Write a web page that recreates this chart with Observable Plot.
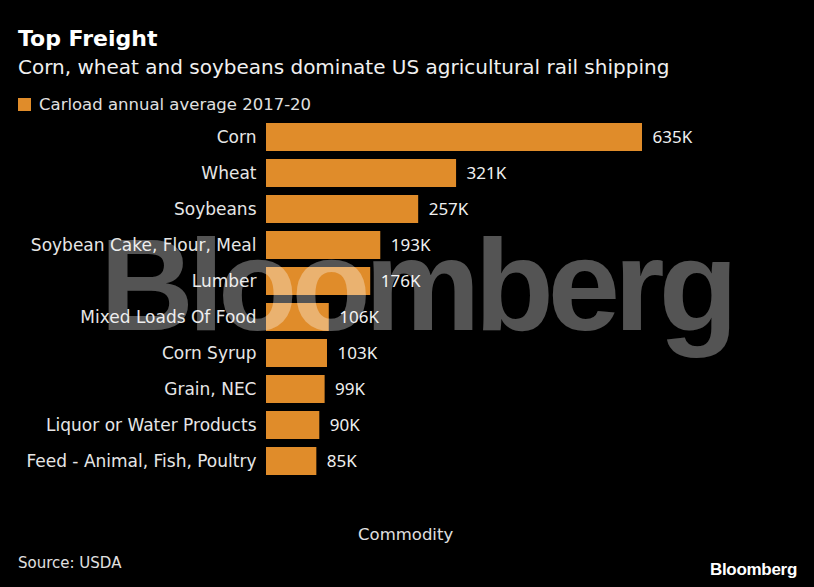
<!DOCTYPE html>
<html><head><meta charset="utf-8">
<script src="https://cdn.jsdelivr.net/npm/d3@7"></script>
<script src="https://cdn.jsdelivr.net/npm/@observablehq/plot@0.6"></script>
<style>
html,body{margin:0;padding:0;background:#000;}
body{width:814px;height:587px;overflow:hidden;position:relative;font-family:"DejaVu Sans",sans-serif;color:#e6e6e6;}
.abs{position:absolute;white-space:nowrap;line-height:1;}
#title{left:18px;top:28px;font-size:22px;font-weight:bold;color:#fff;}
#subtitle{left:18px;top:57px;font-size:20px;color:#f0f0f0;}
#legend{left:18px;top:97px;font-size:16.5px;color:#e0e0e0;}
#legend .sw{display:inline-block;width:13px;height:13px;background:#e08c2a;margin-right:8px;vertical-align:-1px;}
#chart{position:absolute;left:0;top:118px;}
#source{left:18px;top:556px;font-size:15px;color:#e0e0e0;}
#logo{right:17px;top:561px;font-size:17px;font-weight:bold;font-family:"Liberation Sans",Arial,sans-serif;color:#fff;letter-spacing:-0.3px;}
#wm{left:100px;top:220px;font-size:130px;font-weight:bold;font-family:"Liberation Sans",Arial,sans-serif;color:rgba(255,255,255,0.33);letter-spacing:-6px;pointer-events:none;z-index:5;}
</style></head><body>
<div id="title" class="abs">Top Freight</div>
<div id="subtitle" class="abs">Corn, wheat and soybeans dominate US agricultural rail shipping</div>
<div id="legend" class="abs"><span class="sw"></span>Carload annual average 2017-20</div>
<div id="chart"></div>
<div id="source" class="abs">Source: USDA</div>
<div id="logo" class="abs">Bloomberg</div>
<div id="wm" class="abs">Bloomberg</div>
<script>
const commodities = ["Corn","Wheat","Soybeans","Soybean Cake, Flour, Meal","Lumber","Mixed Loads Of Food","Corn Syrup","Grain, NEC","Liquor or Water Products","Feed - Animal, Fish, Poultry"];
const carloads = [635,321,257,193,176,106,103,99,90,85];
const data = commodities.map((c,i)=>({commodity:c, value:carloads[i]}));
const orange = "#e08c2a";
const chart = Plot.plot({
  width: 814,
  height: 430,
  marginLeft: 266,
  marginRight: 172,
  marginTop: 1,
  marginBottom: 68,
  style: {background:"transparent", color:"#e6e6e6", fontFamily:"'DejaVu Sans', sans-serif", fontSize:"17px"},
  x: {domain:[0,635], axis:null},
  y: {domain: commodities, paddingInner:0.22, paddingOuter:0.11, label:null},
  marks: [
    Plot.barX(data, {x:"value", y:"commodity", fill: orange}),
    Plot.axisY({tickSize:0, tickPadding:10, fontSize:17, label:null, fill:"#e6e6e6"}),
    Plot.text(data, {x:"value", y:"commodity", text:d=>d.value+"K", dx:10, textAnchor:"start", fill:"#f0f0f0", fontSize:17, fontFamily:"'Noto Sans', sans-serif"}),
    Plot.text(["Commodity"], {frameAnchor:"bottom", x: 635*0.37, dy:59, text:d=>d, fill:"#e0e0e0", fontSize:16.5})
  ]
});
document.getElementById("chart").appendChild(chart);
</script>
</body></html>
